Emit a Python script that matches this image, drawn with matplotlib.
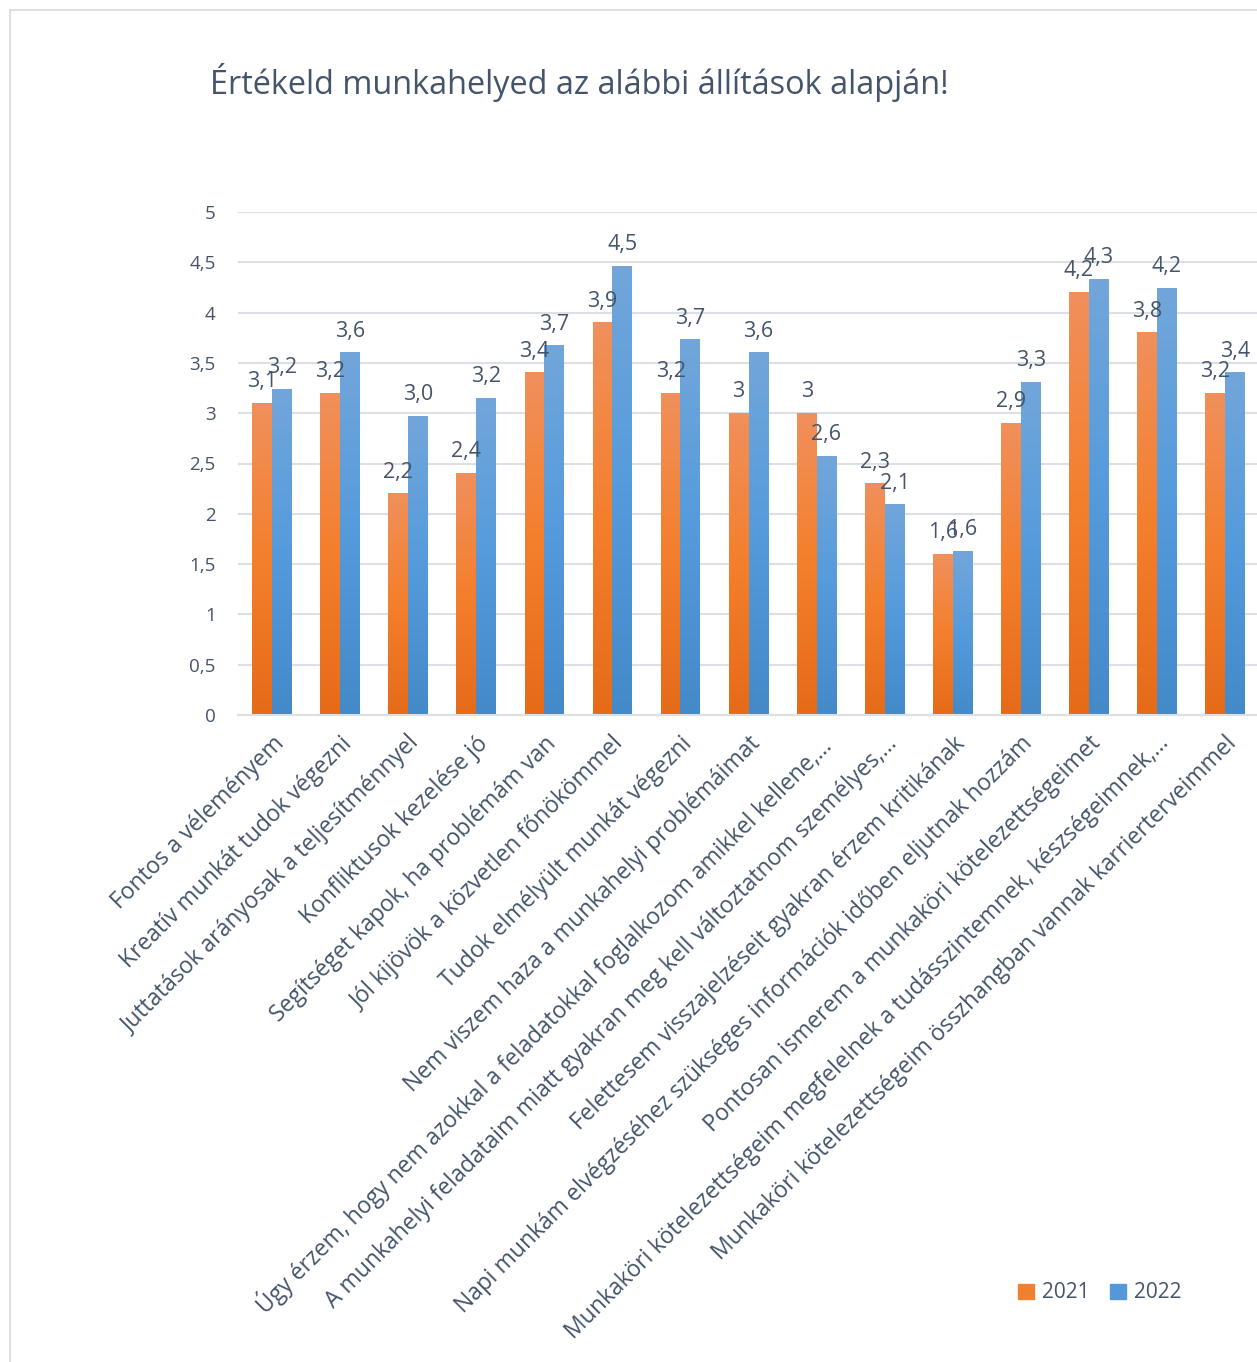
import numpy as np
import matplotlib
matplotlib.use("Agg")
import matplotlib.pyplot as plt
from matplotlib.colors import LinearSegmentedColormap
from matplotlib.lines import Line2D
from matplotlib.patches import Patch

# -----------------------------------------------------------
# Adatok
# -----------------------------------------------------------
kategoriak = [
    "Fontos a véleményem",
    "Kreatív munkát tudok végezni",
    "Juttatások arányosak a teljesítménnyel",
    "Konfliktusok kezelése jó",
    "Segítséget kapok, ha problémám van",
    "Jól kijövök a közvetlen főnökömmel",
    "Tudok elmélyült munkát végezni",
    "Nem viszem haza a munkahelyi problémáimat",
    "Úgy érzem, hogy nem azokkal a feladatokkal foglalkozom amikkel kellene,…",
    "A munkahelyi feladataim miatt gyakran meg kell változtatnom személyes,…",
    "Felettesem visszajelzéseit gyakran érzem kritikának",
    "Napi munkám elvégzéséhez szükséges információk időben eljutnak hozzám",
    "Pontosan ismerem a munkaköri kötelezettségeimet",
    "Munkaköri kötelezettségeim megfelelnek a tudásszintemnek, készségeimnek,…",
    "Munkaköri kötelezettségeim összhangban vannak karrierterveimmel",
]
ertek_2021 = [3.1, 3.2, 2.2, 2.4, 3.4, 3.9, 3.2, 3.0, 3.0, 2.3, 1.6, 2.9, 4.2, 3.8, 3.2]
ertek_2022 = [3.24, 3.6, 2.97, 3.15, 3.67, 4.46, 3.73, 3.6, 2.57, 2.09, 1.63, 3.31, 4.33, 4.24, 3.4]
cimke_2021 = ["3,1", "3,2", "2,2", "2,4", "3,4", "3,9", "3,2", "3", "3", "2,3", "1,6", "2,9", "4,2", "3,8", "3,2"]
cimke_2022 = ["3,2", "3,6", "3,0", "3,2", "3,7", "4,5", "3,7", "3,6", "2,6", "2,1", "1,6", "3,3", "4,3", "4,2", "3,4"]
evek = ["2021", "2022"]

SZOVEG = "#44546A"
RACS = "#DCE0E6"
plt.rcParams["font.family"] = ["Open Sans", "DejaVu Sans"]

narancs = LinearSegmentedColormap.from_list("n", ["#E56B19", "#F47F2C", "#F0905C"])
kek = LinearSegmentedColormap.from_list("k", ["#4489C8", "#559BDC", "#72A6DA"])

fig = plt.figure(figsize=(12.57, 13.62), dpi=100)
ax = fig.add_axes([238 / 1257, 1 - 715 / 1362, 1021 / 1257, 503 / 1362])

x = np.arange(len(kategoriak))
w = 0.29
grad = np.linspace(0, 1, 256).reshape(-1, 1)

for ertekek, cimkek, cmap, dx in [(ertek_2021, cimke_2021, narancs, -w / 2),
                                  (ertek_2022, cimke_2022, kek, w / 2)]:
    bars = ax.bar(x + dx, ertekek, width=w, color="none", zorder=2)
    for b, c in zip(bars, cimkek):
        x0 = b.get_x()
        h = b.get_height()
        ax.imshow(grad, cmap=cmap, origin="lower", aspect="auto",
                  extent=(x0, x0 + w, 0, h), zorder=2)
        ax.annotate(c, (x0 + w / 2, h), xytext=(0, 8), textcoords="offset points",
                    ha="center", va="bottom", fontsize=15.5, color=SZOVEG, zorder=4)

ax.set_xlim(-0.5, len(kategoriak) - 0.5)
ax.set_ylim(0, 5)
ax.set_yticks(np.arange(0, 5.01, 0.5))
ax.set_yticklabels([("%g" % v).replace(".", ",") for v in np.arange(0, 5.01, 0.5)])
ax.yaxis.grid(True, color=RACS, linewidth=1.5, zorder=0)
ax.set_axisbelow(True)
for s in ["top", "right", "left"]:
    ax.spines[s].set_visible(False)
ax.spines["bottom"].set_color(RACS)
ax.spines["bottom"].set_linewidth(1.5)
ax.tick_params(axis="y", length=0, pad=16, labelsize=13.5, labelcolor=SZOVEG)
ax.tick_params(axis="x", length=0, pad=12, labelsize=16.5, labelcolor=SZOVEG)
ax.set_xticks(x)
ax.set_xticklabels(kategoriak, rotation=45, ha="right", rotation_mode="anchor")

fig.text(210 / 1257, 1 - 82 / 1362, "Értékeld munkahelyed az alábbi állítások alapján!",
         fontsize=23.4, color=SZOVEG, va="center", ha="left")

# keret
fig.add_artist(Line2D([10 / 1257, 1], [1 - 10 / 1362] * 2, color="#D9D9D9", lw=1.2))
fig.add_artist(Line2D([10 / 1257] * 2, [0, 1 - 10 / 1362], color="#D9D9D9", lw=1.2))

handles = [Patch(color="#F08030"), Patch(color="#5598DA")]
fig.legend(handles, evek, loc="center", bbox_to_anchor=(1100 / 1257, 1 - 1293 / 1362),
           ncol=2, frameon=False, fontsize=15, labelcolor=SZOVEG,
           handlelength=0.75, handleheight=0.75, handletextpad=0.4, columnspacing=1.0)

fig.savefig("out.png", dpi=100)
